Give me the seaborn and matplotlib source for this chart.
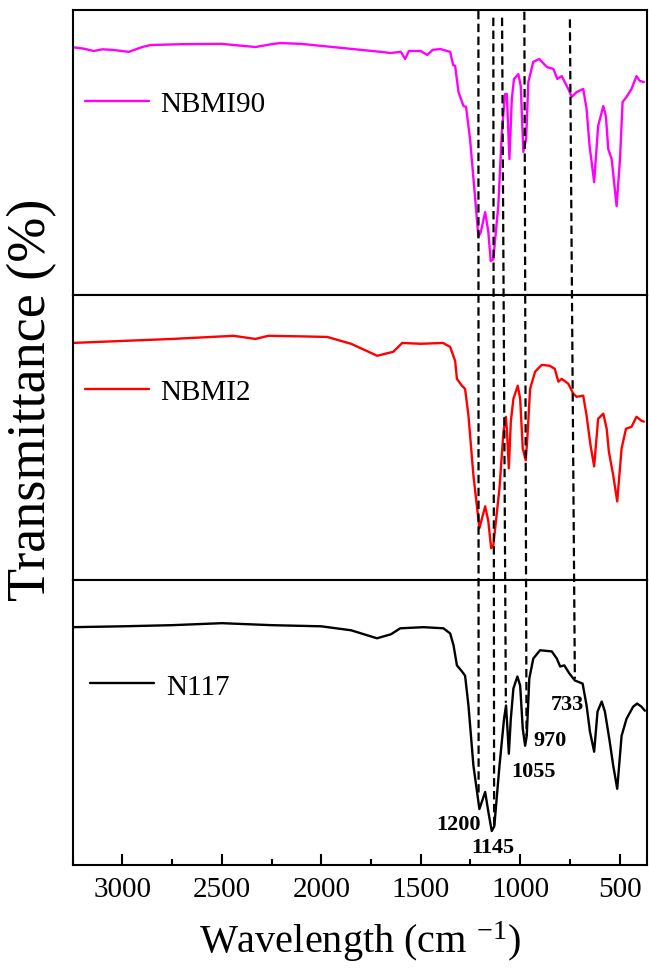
import matplotlib
matplotlib.use("Agg")
import matplotlib.pyplot as plt
import seaborn as sns
import pandas as pd
from matplotlib.ticker import MultipleLocator

# ---------------- data (wavenumber cm-1, transmittance a.u. per panel) -------------
nbmi90_wn = [3250, 3200, 3144, 3100, 3050, 2968, 2900, 2858, 2700, 2500, 2331, 2250, 2205,
             2100, 2000, 1900, 1800, 1700, 1653, 1600, 1578, 1560, 1538, 1500, 1467, 1440,
             1402, 1367, 1352, 1337, 1327, 1310, 1285, 1272, 1252, 1226, 1210, 1198, 1176,
             1160, 1148, 1135, 1110, 1092, 1076, 1067, 1054, 1042, 1031, 1009, 997, 984,
             970, 959, 934, 904, 866, 833, 813, 791, 758, 741, 716, 683, 666, 651, 628,
             608, 582, 569, 557, 540, 515, 498, 485, 465, 440, 415, 398, 378]
nbmi90_t = [86.9, 86.5, 85.6, 86.2, 86.0, 85.3, 87.0, 87.7, 88.0, 88.1, 87.0, 88.0, 88.4,
            88.1, 87.4, 86.7, 86.0, 85.3, 84.9, 85.3, 82.8, 85.6, 85.6, 85.6, 84.2, 86.0,
            86.3, 85.6, 85.3, 80.7, 80.4, 71.2, 66.3, 66.0, 54.7, 33.7, 20.4, 22.1, 29.1,
            22.1, 11.9, 12.6, 31.2, 57.2, 70.5, 70.5, 47.7, 68.8, 75.8, 77.5, 73.3, 50.2,
            54.7, 74.7, 81.8, 82.8, 80.0, 79.3, 75.8, 76.8, 72.3, 69.5, 71.2, 72.3, 65.3,
            52.3, 39.6, 59.3, 66.3, 62.8, 51.2, 47.7, 31.2, 47.7, 67.7, 69.5, 72.3, 76.8,
            75.1, 74.7]

nbmi2_wn = [3250, 3000, 2750, 2441, 2331, 2266, 2100, 1970, 1850, 1719, 1638, 1593, 1500,
            1388, 1352, 1327, 1318, 1293, 1277, 1260, 1235, 1205, 1176, 1160, 1146, 1135,
            1104, 1084, 1072, 1067, 1057, 1047, 1034, 1012, 1000, 987, 972, 964, 950, 925,
            892, 851, 826, 808, 791, 758, 733, 716, 683, 666, 646, 628, 608, 582, 565, 554,
            532, 512, 490, 468, 440, 415, 390, 378]
nbmi2_t = [83.2, 83.9, 84.6, 85.7, 84.6, 85.7, 85.5, 85.3, 82.9, 78.7, 80.1, 83.2, 82.9,
           83.2, 81.8, 76.9, 70.6, 68.2, 67.1, 57.7, 36.7, 18.2, 25.9, 20.6, 11.2, 12.2,
           32.2, 52.1, 57.3, 53.1, 39.2, 55.6, 63.6, 68.2, 63.6, 46.2, 42.0, 49.7, 67.1, 73.1,
           75.5, 75.2, 74.1, 69.6, 70.6, 68.9, 65.4, 64.3, 64.7, 57.7, 47.2, 39.9, 56.6, 58.4,
           53.1, 45.1, 36.7, 27.6, 46.2, 53.1, 53.8, 57.3, 55.9, 55.6]

n117_wn = [3250, 3000, 2750, 2500, 2250, 2000, 1850, 1720, 1650, 1603, 1486, 1386, 1352,
           1335, 1318, 1293, 1277, 1260, 1235, 1205, 1176, 1160, 1143, 1130, 1104, 1081,
           1071, 1064, 1057, 1047, 1034, 1014, 1000, 987, 975, 967, 954, 934, 900, 841,
           816, 799, 778, 753, 725, 686, 666, 649, 628, 611, 590, 574, 552, 532, 512, 490,
           465, 432, 412, 390, 373]
n117_t = [83.5, 83.8, 84.2, 84.9, 84.2, 83.8, 82.4, 79.6, 81.0, 83.1, 83.5, 83.1, 81.3,
          77.1, 70.1, 68.0, 66.5, 56.0, 34.9, 19.7, 25.7, 18.7, 12.0, 13.7, 34.9, 51.4,
          56.0, 47.9, 39.1, 51.4, 62.0, 66.2, 63.0, 47.9, 41.9, 45.4, 65.5, 72.5, 75.4, 75.0,
          72.5, 69.7, 70.1, 67.3, 64.8, 63.7, 56.0, 46.8, 39.8, 53.9, 57.4, 53.9, 44.4, 34.9,
          26.8, 45.4, 51.4, 55.6, 56.7, 55.6, 54.2]

series_names = ["NBMI90", "NBMI2", "N117"]
series_colors = ["#ff00ff", "#ff0000", "#000000"]

# dashed guide lines: wavenumber at top end and bottom end
guide_wn_top = [1210, 1135, 1091, 979, 750]
guide_wn_bottom = [1209, 1131, 1072, 968, 725]
peak_labels = ["1200", "1145", "1055", "970", "733"]

xticks = [3000, 2500, 2000, 1500, 1000, 500]

# ---------------- style ----------------
sns.set_style("ticks")
plt.rcParams["font.family"] = ["Liberation Serif", "DejaVu Serif"]
plt.rcParams["mathtext.fontset"] = "custom"
plt.rcParams["mathtext.rm"] = "Liberation Serif"
plt.rcParams["mathtext.it"] = "Liberation Serif:italic"
plt.rcParams["axes.linewidth"] = 1.5
plt.rcParams["axes.edgecolor"] = "black"
plt.rcParams["text.color"] = "black"
plt.rcParams["axes.labelcolor"] = "black"
plt.rcParams["xtick.color"] = "black"
plt.rcParams["ytick.color"] = "black"

fig = plt.figure(figsize=(6.49, 9.70), dpi=100)
L, R, B, T = 0.112, 0.997, 0.107, 0.9887
gs = fig.add_gridspec(3, 1, left=L, right=R, bottom=B, top=T, hspace=0)
axes = [fig.add_subplot(gs[i]) for i in range(3)]

data = [(nbmi90_wn, nbmi90_t), (nbmi2_wn, nbmi2_t), (n117_wn, n117_t)]
legend_y = [0.67, 0.66, 0.627]
legend_x = [0.021, 0.021, 0.030]
for ax, (wn, t), name, col, ly, lx in zip(axes, data, series_names, series_colors, legend_y, legend_x):
    df = pd.DataFrame({"wn": wn, "t": t})
    sns.lineplot(data=df, x="wn", y="t", ax=ax, color=col, lw=1.7, label=name,
                 estimator=None, sort=False)
    ax.set_xlim(3250, 362)
    ax.set_ylim(0, 100)
    ax.set_yticks([])
    ax.set_ylabel("")
    ax.set_xlabel("")
    ax.tick_params(axis="x", which="both", bottom=False, top=False, labelbottom=False)
    for s in ax.spines.values():
        s.set_visible(True)
        s.set_linewidth(1.5)
        s.set_color("black")
    ax.legend(loc="center left", bbox_to_anchor=(lx, ly), frameon=False,
              fontsize=21, handlelength=2.2, handletextpad=0.4,
              borderpad=0, borderaxespad=0)

ax3 = axes[2]
ax3.set_xticks(xticks)
ax3.xaxis.set_minor_locator(MultipleLocator(250))
ax3.tick_params(axis="x", which="major", bottom=True, labelbottom=True, direction="in",
                length=8, width=1.5, labelsize=21, pad=8, colors="black")
ax3.tick_params(axis="x", which="minor", bottom=True, direction="in", length=4.5, width=1.5,
                colors="black")
ax3.set_xlabel("Wavelength (cm $^{\\mathrm{-1}}$)", fontsize=29, labelpad=12)

# peak annotations
ann_pos = [(1312, 14.4), (1136, 6.3), (935, 33.1), (850, 44.0), (765, 56.7)]
for lab, (px, py) in zip(peak_labels, ann_pos):
    ax3.text(px, py, lab, fontsize=16, fontweight="bold", ha="center", va="center")

# overlay for dashed guides spanning all panels
ov = fig.add_axes([L, B, R - L, T - B], facecolor="none")
ov.set_xlim(3250, 362)
ov.set_ylim(0, 1)
ov.axis("off")
guide_top_y = [0.999, 0.991, 0.991, 0.998, 0.989]
guide_bot_y = [0.085, 0.045, 0.19, 0.151, 0.218]
for xt, xb, yt, yb in zip(guide_wn_top, guide_wn_bottom, guide_top_y, guide_bot_y):
    ov.plot([xt, xb], [yt, yb], color="black", lw=1.6, dashes=(3.8, 2.0))

fig.text(32 / 649, 1 - 400 / 970, "Transmittance (%)", rotation=90, fontsize=39,
         ha="center", va="center")

fig.savefig("out.png", dpi=100)
